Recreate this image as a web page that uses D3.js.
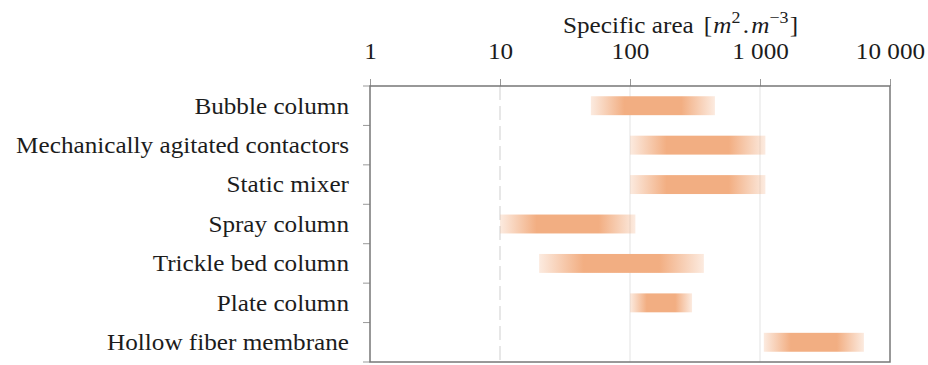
<!DOCTYPE html>
<html>
<head>
<meta charset="utf-8">
<script src="https://cdn.jsdelivr.net/npm/d3@7"></script>
<style>
  body { margin: 0; background: #fff; }
  svg { display: block; }
  svg text { font-family: "Liberation Serif", "DejaVu Serif", serif; }
</style>
</head>
<body>
<svg id="chart" width="928" height="365"></svg>
<script>
// Specific area ranges per contactor type (log scale)
const categories = [
  "Bubble column",
  "Mechanically agitated contactors",
  "Static mixer",
  "Spray column",
  "Trickle bed column",
  "Plate column",
  "Hollow fiber membrane",
];
const minArea = [50, 100, 100, 10, 20, 100, 1070];
const maxArea = [450, 1100, 1100, 110, 370, 300, 6300];
const tickValues = [1, 10, 100, 1000, 10000];
const tickLabels = ["1", "10", "100", "1 000", "10 000"];

const svg = d3.select("#chart");
const width = +svg.attr("width");
const height = +svg.attr("height");
const margin = { top: 86, right: 38, bottom: 3, left: 370 };
const stretch = "scale(1.12,1)"; // reference text is a bit wide

const x = d3.scaleLog()
  .domain([1, 10000])
  .range([margin.left, width - margin.right]);
const y = d3.scaleBand()
  .domain(categories)
  .range([margin.top, height - margin.bottom]);

// gradient: fade at both ends of each bar
const grad = svg.append("defs").append("linearGradient").attr("id", "barGrad");
[[0, 0.25], [0.27, 1], [0.73, 1], [1, 0.25]].forEach(([o, a]) => {
  grad.append("stop")
    .attr("offset", o)
    .attr("stop-color", "#f2ae82")
    .attr("stop-opacity", a);
});

// vertical grid lines
svg.append("g")
  .selectAll("line")
  .data(tickValues.slice(1, -1))
  .join("line")
  .attr("x1", (d) => x(d))
  .attr("x2", (d) => x(d))
  .attr("y1", margin.top)
  .attr("y2", height - margin.bottom)
  .attr("stroke", (d) => (d === 10 ? "#d8d8d8" : "#e8e8e8"))
  .attr("stroke-width", 1.2)
  .attr("stroke-dasharray", (d) => (d === 10 ? "14,6" : null));

// bars
const rows = categories.map((c, i) => ({ name: c, lo: minArea[i], hi: maxArea[i] }));
const barH = y.bandwidth() * 0.48;
svg.append("g")
  .selectAll("rect")
  .data(rows)
  .join("rect")
  .attr("x", (d) => x(d.lo))
  .attr("width", (d) => x(d.hi) - x(d.lo))
  .attr("y", (d) => y(d.name) + (y.bandwidth() - barH) / 2)
  .attr("height", barH)
  .attr("fill", "url(#barGrad)");

// top axis
const xAxis = svg.append("g")
  .attr("transform", `translate(0,${margin.top})`)
  .call(
    d3.axisTop(x)
      .tickValues(tickValues)
      .tickFormat((d, i) => tickLabels[i])
      .tickSize(7)
      .tickPadding(20)
  );
xAxis.select(".domain").remove();
xAxis.attr("font-family", null);
xAxis.selectAll(".tick line").attr("stroke", "#999");
xAxis.selectAll(".tick text")
  .attr("font-size", 22.5)
  .attr("fill", "#1c1c1c")
  .attr("transform", stretch);

// left ticks at band boundaries
const bounds = categories.map((c) => y(c)).concat([y.range()[1]]);
svg.append("g")
  .selectAll("line")
  .data(bounds)
  .join("line")
  .attr("x1", margin.left - 7)
  .attr("x2", margin.left)
  .attr("y1", (d) => d)
  .attr("y2", (d) => d)
  .attr("stroke", "#999");

// category labels
svg.append("g")
  .selectAll("text")
  .data(categories)
  .join("text")
  .attr("transform", (d) => `translate(${margin.left - 21},${y(d) + y.bandwidth() / 2}) ${stretch}`)
  .attr("dy", "0.35em")
  .attr("text-anchor", "end")
  .attr("font-size", 22.5)
  .attr("fill", "#1c1c1c")
  .text((d) => d);

// frame
svg.append("rect")
  .attr("x", margin.left)
  .attr("y", margin.top)
  .attr("width", width - margin.left - margin.right)
  .attr("height", height - margin.top - margin.bottom)
  .attr("fill", "none")
  .attr("stroke", "#777")
  .attr("stroke-width", 1.5);

// axis title
const title = svg.append("text")
  .attr("transform", `translate(${margin.left + 193},33) ${stretch}`)
  .attr("font-size", 22.5)
  .attr("fill", "#1c1c1c");
title.append("tspan").text("Specific area");
title.append("tspan").attr("dx", 9).text("[");
title.append("tspan").attr("font-style", "italic").attr("dx", 1).text("m");
title.append("tspan").attr("font-size", 16).attr("dy", -10).text("2");
title.append("tspan").attr("dy", 10).attr("dx", 2).text(".");
title.append("tspan").attr("font-style", "italic").attr("dx", 2).text("m");
title.append("tspan").attr("font-size", 16).attr("dy", -10).text("\u22123");
title.append("tspan").attr("dy", 10).attr("dx", 1).text("]");
</script>
</body>
</html>
